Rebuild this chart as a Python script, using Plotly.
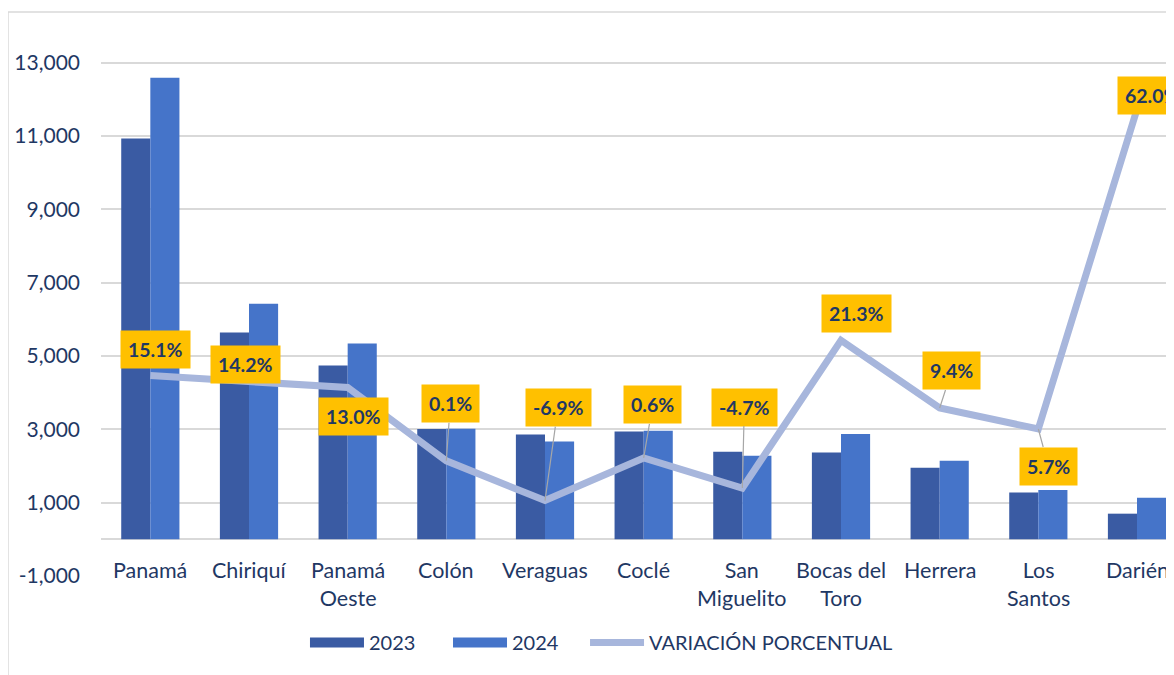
import plotly.graph_objects as go

# ---------------- data ----------------
categories = ["Panamá", "Chiriquí", "Panamá<br>Oeste", "Colón", "Veraguas", "Coclé",
              "San<br>Miguelito", "Bocas del<br>Toro", "Herrera", "Los<br>Santos", "Darién"]
values_2023 = [10930, 5640, 4740, 3010, 2860, 2940, 2390, 2370, 1955, 1275, 700]
values_2024 = [12590, 6425, 5340, 3015, 2665, 2960, 2280, 2870, 2140, 1345, 1135]
variacion = [15.1, 14.2, 13.0, 0.1, -6.9, 0.6, -4.7, 21.3, 9.4, 5.7, 62.0]
y_tick_values = [-1000, 1000, 3000, 5000, 7000, 9000, 11000, 13000]
y_tick_labels = ["-1,000", "1,000", "3,000", "5,000", "7,000", "9,000", "11,000", "13,000"]

# ---------------- label placement (pixels) ----------------
label_offsets = [(5, -26), (-4, -16), (6, 29), (4, -57), (13, -93), (9, -53),
                 (2, -81), (15, -27), (12, -37), (10, 37), (15, -14)]
show_leader = [False, False, False, True, True, True, True, False, True, True, False]

NAVY = "#1F3864"
GRID = "#D9D9D9"
FONT = "Lato"
C2023 = "#3A5BA3"
C2024 = "#4574C9"
CLINE = "#A7B6DC"

fig = go.Figure()
fig.add_trace(go.Bar(x=categories, y=values_2023, name="2023", showlegend=False,
                     marker=dict(color=C2023, line=dict(width=0))))
fig.add_trace(go.Bar(x=categories, y=values_2024, name="2024", showlegend=False,
                     marker=dict(color=C2024, line=dict(width=0))))
fig.add_trace(go.Scatter(x=categories, y=variacion, name="VARIACIÓN PORCENTUAL",
                         yaxis="y2", mode="lines", showlegend=False,
                         line=dict(color=CLINE, width=7)))

# legend-only entries (wide swatches like the original), one legend each
fig.add_trace(go.Scatter(x=[None], y=[None], name="2023", mode="lines", legend="legend",
                         line=dict(color=C2023, width=16)))
fig.add_trace(go.Scatter(x=[None], y=[None], name="2024", mode="lines", legend="legend2",
                         line=dict(color=C2024, width=16)))
fig.add_trace(go.Scatter(x=[None], y=[None], name="VARIACIÓN PORCENTUAL", mode="lines",
                         legend="legend3", line=dict(color=CLINE, width=7)))

annotations = []
for cat, v, (dx, dy), lead in zip(categories, variacion, label_offsets, show_leader):
    annotations.append(dict(
        x=cat, y=v, xref="x", yref="y2", text=f"{v:.1f}%",
        showarrow=True, arrowhead=0, arrowwidth=1.2, standoff=0,
        arrowcolor="#A6A6A6" if lead else "rgba(0,0,0,0)",
        ax=dx, ay=dy, bgcolor="#FFC000", borderpad=7,
        font=dict(family=FONT, size=19.5, color=NAVY, weight="bold"),
    ))
for cat in categories:
    annotations.append(dict(
        x=cat, y=0, xref="x", yref="y", text=cat, showarrow=False,
        yanchor="top", xanchor="center", yshift=-16, align="center",
        font=dict(family=FONT, size=21.5, color=NAVY),
    ))

legend_common = dict(orientation="h", y=-0.121, xanchor="left", yanchor="middle",
                     font=dict(family=FONT, size=20, color=NAVY), itemwidth=54,
                     bgcolor="rgba(0,0,0,0)")

fig.update_layout(
    width=1166, height=667,
    margin=dict(l=93, r=0, t=18, b=99),
    paper_bgcolor="white", plot_bgcolor="white",
    barmode="group", bargap=0.41, bargroupgap=0,
    font=dict(family=FONT, size=21, color=NAVY),
    xaxis=dict(type="category", range=[-0.5, 10.375], showticklabels=False,
               showgrid=False, zeroline=False, showline=False, ticks=""),
    yaxis=dict(range=[-1000, 14000], tickvals=y_tick_values, ticktext=y_tick_labels,
               showgrid=True, gridcolor=GRID, gridwidth=1.5,
               zeroline=True, zerolinecolor=GRID, zerolinewidth=1.5,
               showline=False, ticks="", ticklabelstandoff=20,
               tickfont=dict(family=FONT, size=21, color=NAVY)),
    yaxis2=dict(overlaying="y", range=[-20.18, 76.65], visible=False),
    legend=dict(x=0.1901, **legend_common),
    legend2=dict(x=0.3234, **legend_common),
    legend3=dict(x=0.4511, **legend_common),
    annotations=annotations,
    shapes=[dict(type="rect", xref="paper", yref="paper",
                 x0=-0.0867, x1=1.05, y0=-0.25, y1=1.0255,
                 line=dict(color=GRID, width=1.5), fillcolor="rgba(0,0,0,0)",
                 layer="below")],
)

fig.write_html("out.html")
